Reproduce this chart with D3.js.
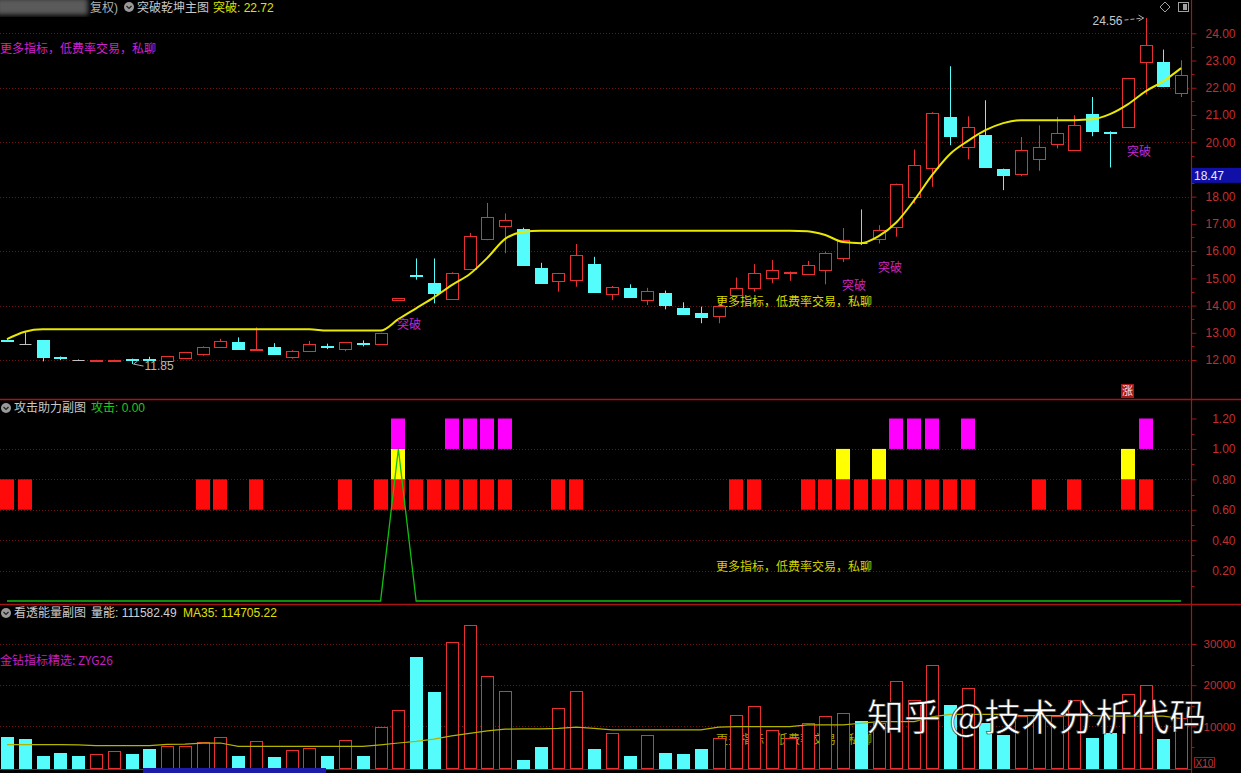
<!DOCTYPE html>
<html><head><meta charset="utf-8">
<script src="https://cdn.jsdelivr.net/npm/d3@7"></script>
<style>html,body{margin:0;padding:0;background:#000;overflow:hidden}</style>
</head><body><svg id="c" width="1241" height="773"></svg>
<script>
// ---------------- data ----------------
const open  = [12.73,12.60,12.72,12.12,12.00,11.99,11.99,12.04,12.05,11.98, 12.09,12.22,12.47,12.67,12.38,12.49,12.12,12.33,12.50,12.40, 12.63,12.59,14.22,15.13,14.84,14.24,15.34,16.43,16.92,16.81, 15.39,14.91,14.94,15.52,14.42,14.63,14.20,14.45,13.90,13.71, 13.61,14.39,14.63,15.00,15.21,15.16,15.30,15.75,16.30,16.43, 16.89,17.99,19.04,20.93,19.83,20.26,19.00,18.83,19.40,19.95, 19.73,21.03,20.39,20.56,22.95,22.95,21.79];
const high  = [12.76,13.02,12.72,12.13,12.02,12.01,12.01,12.05,12.12,12.15, 12.30,12.50,12.78,12.83,13.20,12.62,12.36,12.70,12.60,12.66, 12.72,13.00,14.28,15.73,15.73,15.22,16.67,17.77,17.38,16.86, 15.57,15.20,16.26,15.79,14.72,14.78,14.65,14.55,14.12,13.96, 14.00,15.03,15.52,15.67,15.25,15.64,15.98,16.85,17.53,16.95, 18.48,19.73,21.10,22.79,20.95,21.54,19.03,20.19,20.62,20.93, 20.99,21.66,20.40,22.36,24.56,23.40,23.01];
const low   = [12.66,12.58,11.95,12.00,11.98,11.99,11.99,11.85,12.00,11.95, 12.07,12.16,12.44,12.40,12.36,12.20,12.05,12.30,12.40,12.32, 12.50,12.57,14.18,14.95,14.08,14.22,15.30,16.40,15.92,15.49, 14.82,14.51,14.69,14.49,14.20,14.28,14.02,13.86,13.66,13.35, 13.35,14.35,14.51,14.82,14.91,15.12,14.78,15.60,16.22,16.28, 16.53,17.75,18.36,19.89,19.37,19.05,18.24,18.75,18.95,19.77, 19.70,20.22,19.07,20.54,21.75,22.02,21.66];
const close = [12.70,12.60,12.10,12.08,12.00,12.01,12.01,12.02,12.03,12.13, 12.28,12.49,12.71,12.40,12.41,12.22,12.34,12.58,12.48,12.65, 12.60,12.98,14.26,15.11,14.47,15.20,16.56,17.26,17.16,15.49, 14.84,15.18,15.85,14.51,14.69,14.30,14.54,14.02,13.69,13.59, 13.98,14.63,15.20,15.30,15.23,15.49,15.94,16.40,16.30,16.77, 18.46,19.16,21.08,20.22,20.56,19.09,18.79,19.71,19.83,20.32, 20.62,20.41,20.37,22.34,23.56,22.06,22.46];
// 突破 yellow line
const breakLine = [12.77,13.04,13.13,13.13,13.13,13.13,13.13,13.13,13.13,13.13, 13.13,13.13,13.13,13.13,13.13,13.13,13.13,13.13,13.08,13.08, 13.08,13.08,13.50,13.90,14.30,14.75,15.15,15.75,16.45,16.70, 16.75,16.75,16.75,16.75,16.75,16.75,16.75,16.75,16.75,16.75, 16.75,16.75,16.75,16.75,16.75,16.73,16.59,16.33,16.29,16.55, 17.06,17.87,18.79,19.56,20.04,20.44,20.70,20.81,20.81,20.81, 20.81,20.84,21.03,21.39,21.87,22.24,22.72];
const breakSignalDays = [22,47,49,63];
const cursorPrice = 18.47;
// 攻击助力副图
const attackRedDays     = [0,1,11,12,14,19,21,22,23,24,25,26,27,28,31,32,41,42,45,46,47,48,49,50,51,52,53,54,58,60,63,64];
const attackYellowDays  = [22,47,49,63];
const attackMagentaDays = [22,25,26,27,28,50,51,52,54,64];
const attackLine = [0,0,0,0,0,0,0,0,0,0, 0,0,0,0,0,0,0,0,0,0, 0,0,1,0,0,0,0,0,0,0, 0,0,0,0,0,0,0,0,0,0, 0,0,0,0,0,0,0,0,0,0, 0,0,0,0,0,0,0,0,0,0, 0,0,0,0,0,0,0];
// 看透能量副图 (x10)
const volume = [7400,7000,2700,3500,2700,3300,3900,3300,4500,5300, 5300,6300,7300,2700,6500,2500,4200,4700,2700,6700, 2700,9800,14000,26800,18400,30400,34600,22200,18600,1800, 5100,14400,18600,4600,8500,2700,7800,3500,3300,4500, 7100,12800,15000,9200,7100,10900,12500,13200,11200,10800, 21000,16500,24800,15200,19300,10800,7900,12500,12800,12500, 16400,7100,8500,17800,20000,6900,12000];
const volMA35 = [5540,5540,5540,5540,5500,5300,5300,5300,5300,5600, 5700,5900,5950,5140,5140,5140,5140,5140,5140,5140, 5140,5500,5950,6340,6900,7700,8300,8900,9300,9400, 9400,9500,9800,9500,9150,9150,9150,9150,9150,9150, 9800,9950,9950,9950,9950,10350,10350,10350,10750,11150, 11150,11150,12300,12900,12900,12900,12900,12600,12600,12600, 12600,12600,12500,12500,12500,12500,11900];
// ticks (19.00 is hidden under the cursor price box in the reference)
const priceTicks  = [12,13,14,15,16,17,18,20,21,22,23,24];
const priceGrid   = [12,14,16,18,20,22,24];
const attackTicks = [0.2,0.4,0.6,0.8,1.0,1.2];
const attackGrid  = [0.2,0.4,0.6,0.8,1.0];
const volumeTicks = [10000,20000,30000];

// ---------------- drawing ----------------
const W=1241,H=773;
const FONT='"Liberation Sans","Noto Sans CJK SC",Arial,sans-serif';
const CJK='"Noto Sans CJK SC","Liberation Sans",sans-serif';
const RED='#e83030', CYAN='#54fcfc', GRAY='#c0c0c0', AXIS='#a81414', GRID='#6e1414';
const svg=d3.select('#c');
svg.append('rect').attr('width',W).attr('height',H).attr('fill','#000');
const defs=svg.append('defs');
defs.append('filter').attr('id','blur').append('feGaussianBlur').attr('stdDeviation',2.5);

const days=d3.range(open.length);
const x=d3.scaleBand().domain(days).range([-1.9,1190]);
const cx=i=>Math.round(x(i)+x.bandwidth()/2)+0.5;
const yP=d3.scaleLinear().domain([12,24]).range([360,33.3]);
const yA=d3.scaleLinear().domain([0,1.2]).range([601,418.5]);
const yV=d3.scaleLinear().domain([0,30000]).range([767.5,644]);

// grids
function grid(scale, vals){
  svg.append('g').selectAll('line').data(vals).join('line')
    .attr('x1',0).attr('x2',1191).attr('y1',d=>Math.round(scale(d))+0.5).attr('y2',d=>Math.round(scale(d))+0.5)
    .attr('stroke',GRID).attr('stroke-dasharray','1,2');
}
grid(yP,priceGrid); grid(yA,attackGrid); grid(yV,volumeTicks);

// separators & axis line
svg.append('line').attr('x1',0).attr('x2',W).attr('y1',399.5).attr('y2',399.5).attr('stroke',AXIS).attr('stroke-width',1.5);
svg.append('line').attr('x1',0).attr('x2',W).attr('y1',604.5).attr('y2',604.5).attr('stroke',AXIS).attr('stroke-width',1.5);
svg.append('line').attr('x1',0).attr('x2',1191).attr('y1',769.5).attr('y2',769.5).attr('stroke',AXIS);
svg.append('line').attr('x1',1191.5).attr('x2',1191.5).attr('y1',0).attr('y2',H).attr('stroke',AXIS).attr('stroke-width',1.2);

function rightAxis(scale, ticks, fmt, minorStep, size){
  const g=svg.append('g').attr('transform','translate(1191.5,0)');
  g.call(d3.axisRight(scale).tickValues(ticks).tickFormat(fmt).tickSize(5).tickPadding(0));
  g.select('.domain').remove();
  g.selectAll('line').attr('stroke',AXIS);
  g.selectAll('text').attr('x',44).attr('text-anchor','end').attr('fill','#c03030')
    .attr('font-size',size).attr('font-family',FONT);
  if(minorStep){
    const [a,b]=scale.domain();
    const mins=d3.range(a+minorStep/2,b,minorStep);
    g.selectAll('line.minor').data(mins).join('line').attr('class','minor')
      .attr('x1',0).attr('x2',3).attr('y1',d=>Math.round(scale(d))+0.5).attr('y2',d=>Math.round(scale(d))+0.5).attr('stroke',AXIS);
  }
}
rightAxis(yP,priceTicks,d3.format('.2f'),1,12);
rightAxis(yA,attackTicks,d3.format('.2f'),0.2,12);
rightAxis(yV,volumeTicks,d3.format('d'),10000,11.5);

// ---------- main panel ----------
svg.append('text').attr('x',0).attr('y',49).attr('dy','0.35em').attr('font-size',12).attr('font-family',CJK)
  .attr('fill','#d020d0').text('更多指标，低费率交易，私聊');
svg.append('text').attr('x',716).attr('y',302).attr('dy','0.35em').attr('font-size',12).attr('font-family',CJK)
  .attr('fill','#d8d800').text('更多指标，低费率交易，私聊');

const cg=svg.append('g');
days.forEach(i=>{
  const o=open[i],c=close[i],h=high[i],l=low[i];
  const col=c>o?RED:(c<o?CYAN:GRAY);
  const X=cx(i);
  cg.append('line').attr('x1',X).attr('x2',X).attr('y1',yP(h)).attr('y2',yP(l)).attr('stroke',col);
  if(c===o){
    cg.append('line').attr('x1',X-6).attr('x2',X+6).attr('y1',Math.round(yP(o))+0.5).attr('y2',Math.round(yP(o))+0.5).attr('stroke',col);
  } else {
    const top=Math.round(yP(Math.max(o,c))), bot=Math.round(yP(Math.min(o,c)));
    const hh=Math.max(1,bot-top);
    if(c>o){
      cg.append('rect').attr('x',X-6).attr('y',top+0.5).attr('width',12).attr('height',hh)
        .attr('fill','#000').attr('stroke',col);
    } else {
      cg.append('rect').attr('x',X-6.5).attr('y',top).attr('width',13).attr('height',hh+1).attr('fill',col);
    }
  }
});

// yellow break line
svg.append('path').datum(breakLine)
  .attr('d',d3.line().x((d,i)=>x(i)+x.bandwidth()/2).y(d=>yP(d)).curve(d3.curveMonotoneX))
  .attr('fill','none').attr('stroke','#e8e800').attr('stroke-width',2);

// 突破 signals
svg.append('g').selectAll('text').data(breakSignalDays).join('text')
  .attr('x',d=>cx(d)-1.5).attr('y',d=>yP(low[d])+24).attr('dy','0.35em')
  .attr('font-size',12).attr('font-family',CJK).attr('fill','#c828c8').text('突破');

// max / min annotations
const iMax=d3.maxIndex(high), iMin=d3.minIndex(low);
svg.append('text').attr('x',cx(iMax)-24).attr('y',yP(high[iMax])+3).attr('dy','0.35em').attr('text-anchor','end')
  .attr('font-size',12).attr('font-family',FONT).attr('fill','#c8c8c8').text(d3.format('.2f')(high[iMax]));
svg.append('path').attr('d',`M${cx(iMax)-22},${yP(high[iMax])+2}L${cx(iMax)-3},${yP(high[iMax])}`)
  .attr('stroke','#b0b0b0').attr('stroke-dasharray','4,2').attr('fill','none');
svg.append('path').attr('d',`M${cx(iMax)-8},${yP(high[iMax])-3}L${cx(iMax)-3},${yP(high[iMax])}L${cx(iMax)-8},${yP(high[iMax])+3}`)
  .attr('stroke','#b0b0b0').attr('fill','none');
svg.append('path').attr('d',`M${cx(iMin)+1},${yP(low[iMin])}L${cx(iMin)+11},${yP(low[iMin])+2}M${cx(iMin)+1},${yP(low[iMin])}L${cx(iMin)+5},${yP(low[iMin])-3}`)
  .attr('stroke','#b0b0b0').attr('fill','none');
svg.append('text').attr('x',cx(iMin)+12).attr('y',yP(low[iMin])+2).attr('dy','0.35em')
  .attr('font-size',12).attr('font-family',FONT).attr('fill','#b8b8b8').text(d3.format('.2f')(low[iMin]));

// cursor price box
svg.append('rect').attr('x',1192).attr('y',yP(cursorPrice)-16).attr('width',49).attr('height',15).attr('fill','#1010a8');
svg.append('text').attr('x',1194).attr('y',yP(cursorPrice)-8.5).attr('dy','0.35em').attr('font-size',12)
  .attr('font-family',FONT).attr('fill','#e8e8ff').text(d3.format('.2f')(cursorPrice));

// 涨 box
svg.append('rect').attr('x',1121).attr('y',384).attr('width',13).attr('height',14).attr('fill','#a81818');
svg.append('text').attr('x',1127.5).attr('y',391).attr('dy','0.35em').attr('text-anchor','middle').attr('font-size',11)
  .attr('font-family',CJK).attr('fill','#ffe0e0').text('涨');

// top-right icons
svg.append('path').attr('d','M1165,2L1170,7L1165,12L1160,7Z').attr('fill','none').attr('stroke','#a0a0a0');
svg.append('rect').attr('x',1178.5).attr('y',2.5).attr('width',10).attr('height',9).attr('fill','none').attr('stroke','#a0a0a0');
svg.append('rect').attr('x',1183).attr('y',4).attr('width',4).attr('height',6).attr('fill','#a0a0a0');

// header
svg.append('rect').attr('x',-4).attr('y',-2).attr('width',92).attr('height',17).attr('fill','#5a5a5a').attr('filter','url(#blur)');
svg.append('text').attr('x',90).attr('y',7.5).attr('dy','0.35em').attr('font-size',12).attr('font-family',FONT).attr('fill','#b0b0b0').text('复权)');
function icon(X,Y){
  svg.append('circle').attr('cx',X).attr('cy',Y).attr('r',5).attr('fill','#9a9a9a');
  svg.append('path').attr('d',`M${X-2.5},${Y-1}L${X},${Y+1.5}L${X+2.5},${Y-1}`).attr('stroke','#202020').attr('fill','none').attr('stroke-width',1.2);
}
icon(129,7);
svg.append('text').attr('x',137).attr('y',7.5).attr('dy','0.35em').attr('font-size',12).attr('font-family',FONT).attr('fill','#c8c8c8').text('突破乾坤主图');
svg.append('text').attr('x',213).attr('y',7.5).attr('dy','0.35em').attr('font-size',12).attr('font-family',FONT).attr('fill','#e0e000').text('突破: 22.72');

// ---------- attack panel ----------
icon(6,408);
svg.append('text').attr('x',14).attr('y',408).attr('dy','0.35em').attr('font-size',12).attr('font-family',CJK).attr('fill','#c8c8c8').text('攻击助力副图');
svg.append('text').attr('x',91).attr('y',408).attr('dy','0.35em').attr('font-size',12).attr('font-family',FONT).attr('fill','#1ec81e').text('攻击: 0.00');
svg.append('text').attr('x',716).attr('y',567).attr('dy','0.35em').attr('font-size',12).attr('font-family',CJK)
  .attr('fill','#d0d000').text('更多指标，低费率交易，私聊');
function attackBars(list, lo, hi, col){
  svg.append('g').selectAll('rect').data(list).join('rect')
    .attr('x',d=>cx(d)-7.5).attr('width',14)
    .attr('y',yA(hi)).attr('height',yA(lo)-yA(hi)).attr('fill',col);
}
attackBars(attackRedDays,0.6,0.8,'#ff0a0a');
attackBars(attackYellowDays,0.8,1.0,'#ffff00');
attackBars(attackMagentaDays,1.0,1.2,'#ff00ff');
svg.append('path').datum(attackLine)
  .attr('d',d3.line().x((d,i)=>x(i)+x.bandwidth()/2).y(d=>yA(d)))
  .attr('fill','none').attr('stroke','#10c010').attr('stroke-width',1.3);

// ---------- volume panel ----------
icon(6,613);
svg.append('text').attr('x',14).attr('y',613).attr('dy','0.35em').attr('font-size',12).attr('font-family',CJK).attr('fill','#c8c8c8').text('看透能量副图');
svg.append('text').attr('x',91).attr('y',613).attr('dy','0.35em').attr('font-size',12).attr('font-family',FONT).attr('fill','#d0d0d0').text('量能: 111582.49');
svg.append('text').attr('x',183).attr('y',613).attr('dy','0.35em').attr('font-size',12).attr('font-family',FONT).attr('fill','#e0e000').text('MA35: 114705.22');
svg.append('text').attr('x',0).attr('y',661).attr('dy','0.35em').attr('font-size',12).attr('font-family',CJK).attr('fill','#c020c0').text('金钻指标精选: ZYG26');
svg.append('text').attr('x',716).attr('y',740).attr('dy','0.35em').attr('font-size',12).attr('font-family',CJK)
  .attr('fill','#a8a800').text('更多指标，低费率交易，私聊');

const vg=svg.append('g');
days.forEach(i=>{
  const X=cx(i), top=Math.round(yV(volume[i])), bot=Math.round(yV(0));
  if(close[i]>open[i]){
    vg.append('rect').attr('x',X-6).attr('y',top+0.5).attr('width',12).attr('height',bot-top).attr('fill','#000').attr('stroke',RED);
  } else {
    vg.append('rect').attr('x',X-6.5).attr('y',top).attr('width',13).attr('height',bot-top+1).attr('fill',CYAN);
  }
});
svg.append('path').datum(volMA35)
  .attr('d',d3.line().x((d,i)=>x(i)+x.bandwidth()/2).y(d=>yV(d)))
  .attr('fill','none').attr('stroke','#b4b400').attr('stroke-width',1.2);

// X10 box
svg.append('rect').attr('x',1194.5).attr('y',757.5).attr('width',20).attr('height',10).attr('fill','none').attr('stroke',AXIS);
svg.append('text').attr('x',1204.5).attr('y',763).attr('dy','0.35em').attr('text-anchor','middle').attr('font-size',10).attr('font-family',FONT).attr('fill','#b04040').text('X10');
// date box at bottom
svg.append('rect').attr('x',143).attr('y',768).attr('width',183).attr('height',5).attr('fill','#1c1ca8');

// watermark
svg.append('text').attr('x',867).attr('y',718).attr('dy','0.35em').attr('font-size',37).attr('font-family',CJK)
  .attr('fill','#ffffff').attr('stroke','#202020').attr('stroke-width',0.6).text('知乎 @技术分析代码');
</script></body></html>
